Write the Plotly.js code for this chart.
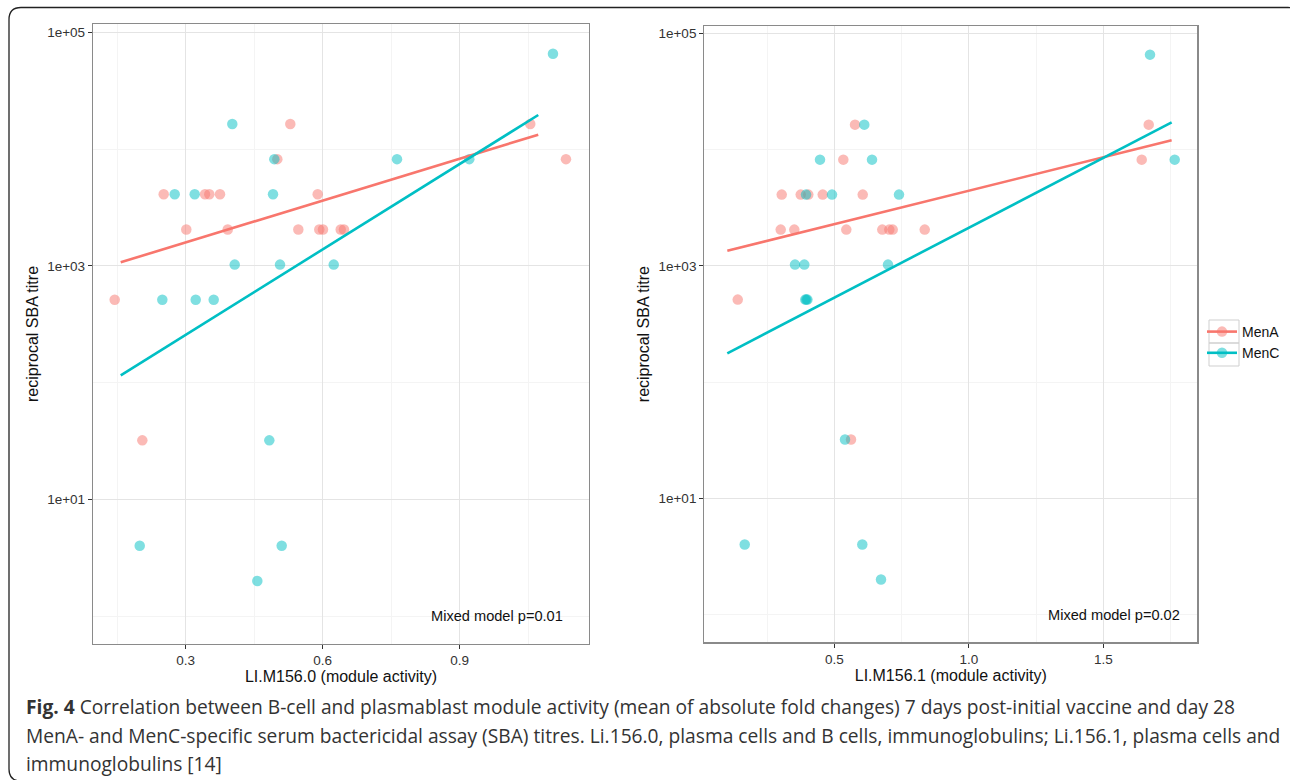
<!DOCTYPE html>
<html><head><meta charset="utf-8">
<script src="https://cdn.plot.ly/plotly-3.0.1.min.js"></script>
<style>html,body{margin:0;padding:0;background:#fff}#chart{width:1290px;height:780px}</style>
</head><body><div id="chart"></div>
<script>
// ---------- data ----------
const groups = ['MenA', 'MenC'];
const groupColors = ['#F8766D', '#00BFC4'];

// Panel 1: LI.M156.0 module activity vs reciprocal SBA titre
const p1MenA_x = [0.1445, 0.2518, 0.3013, 0.3423, 0.3517, 0.3751, 0.3920, 0.5006, 0.5290, 0.5466, 0.5890, 0.5925, 0.6006, 0.6394, 0.6466, 1.0545, 1.1327, 0.2050];
const p1MenA_y = [512, 4096, 2048, 4096, 4096, 4096, 2048, 8192, 16384, 2048, 4096, 2048, 2048, 2048, 2048, 16384, 8192, 32];
const p1MenC_x = [0.2488, 0.2759, 0.3197, 0.3219, 0.3613, 0.4020, 0.4073, 0.4912, 0.4940, 0.5065, 0.6241, 0.7627, 0.9210, 1.1042, 0.4831, 0.1993, 0.5102, 0.4568];
const p1MenC_y = [512, 4096, 4096, 512, 512, 16384, 1024, 4096, 8192, 1024, 1024, 8192, 8192, 65536, 32, 4, 4, 2];
// fitted lines (end points)
const p1FitMenA_x = [0.1577, 1.072];
const p1FitMenA_y = [1072, 13270];
const p1FitMenC_x = [0.1577, 1.072];
const p1FitMenC_y = [115.3, 19580];

// Panel 2: LI.M156.1 module activity vs reciprocal SBA titre
const p2MenA_x = [0.1410, 0.3045, 0.3751, 0.4033, 0.4569, 0.6056, 0.3007, 0.3513, 0.5446, 0.6784, 0.7045, 0.7171, 0.8361, 0.5335, 1.6428, 0.5770, 1.6688, 0.5621];
const p2MenA_y = [512, 4096, 4096, 4096, 4096, 4096, 2048, 2048, 2048, 2048, 2048, 2048, 2048, 8192, 8192, 16384, 16384, 32];
const p2MenC_x = [0.3948, 0.4914, 0.7405, 0.4468, 0.6401, 1.7654, 0.6115, 1.6736, 0.3539, 0.3885, 0.6996, 0.3920, 0.3960, 0.4000, 0.5398, 0.1669, 0.6041, 0.6736];
const p2MenC_y = [4096, 4096, 4096, 8192, 8192, 8192, 16384, 65536, 1024, 1024, 1024, 512, 512, 512, 32, 4, 4, 2];
const p2FitMenA_x = [0.1022, 1.754];
const p2FitMenA_y = [1349, 12010];
const p2FitMenC_x = [0.1022, 1.754];
const p2FitMenC_y = [176.7, 17150];

const p1XTicks = [0.3, 0.6, 0.9];
const p1XTickText = ['0.3', '0.6', '0.9'];
const p2XTicks = [0.5, 1.0, 1.5];
const p2XTickText = ['0.5', '1.0', '1.5'];
const yTicks = [10, 1000, 100000];
const yTickText = ['1e+01', '1e+03', '1e+05'];
const pTexts = ['Mixed model p=0.01', 'Mixed model p=0.02'];
const xTitles = ['LI.M156.0 (module activity)', 'LI.M156.1 (module activity)'];
const yTitle = 'reciprocal SBA titre';
const captionLines = [
  '<b>Fig. 4</b> Correlation between B-cell and plasmablast module activity (mean of absolute fold changes) 7 days post-initial vaccine and day 28',
  'MenA- and MenC-specific serum bactericidal assay (SBA) titres. Li.156.0, plasma cells and B cells, immunoglobulins; Li.156.1, plasma cells and',
  'immunoglobulins [14]'
];

// ---------- helpers ----------
const W = 1290, H = 780;
const px = v => v / W;
const py = v => 1 - v / H;
const FONT = 'Liberation Sans, Arial, Helvetica, sans-serif';

function pts(x, y, gi, xa, ya) {
  return {x: x, y: y, xaxis: xa, yaxis: ya, type: 'scatter', mode: 'markers', showlegend: false,
    name: groups[gi], hoverinfo: 'x+y+name',
    marker: {color: groupColors[gi], size: 10.5, opacity: 0.5, line: {width: 0}}};
}
function fit(x, y, gi, xa, ya) {
  return {x: x, y: y, xaxis: xa, yaxis: ya, type: 'scatter', mode: 'lines', showlegend: false,
    name: groups[gi], line: {color: groupColors[gi], width: 2.6}};
}
function legendTrace(gi) {
  return {x: [null], y: [null], xaxis: 'x2', yaxis: 'y2', type: 'scatter', mode: 'lines+markers',
    name: groups[gi], line: {color: groupColors[gi], width: 2.6},
    marker: {color: groupColors[gi], size: 10.5, opacity: 0.5}};
}

const data = [
  pts(p1MenA_x, p1MenA_y, 0, 'x', 'y'),
  pts(p1MenC_x, p1MenC_y, 1, 'x', 'y'),
  pts(p2MenA_x, p2MenA_y, 0, 'x2', 'y2'),
  pts(p2MenC_x, p2MenC_y, 1, 'x2', 'y2'),
  fit(p1FitMenA_x, p1FitMenA_y, 0, 'x', 'y'),
  fit(p1FitMenC_x, p1FitMenC_y, 1, 'x', 'y'),
  fit(p2FitMenA_x, p2FitMenA_y, 0, 'x2', 'y2'),
  fit(p2FitMenC_x, p2FitMenC_y, 1, 'x2', 'y2'),
  legendTrace(0), legendTrace(1)
];

function xAxis(domain, range, ticks, text, title, anchor) {
  return {domain: domain, range: range, anchor: anchor, tickvals: ticks, ticktext: text,
    ticks: 'outside', ticklen: 4, tickcolor: '#333', tickwidth: 1,
    showline: true, mirror: true, linecolor: '#8a8a8a', linewidth: 1.2,
    showgrid: true, gridcolor: '#e4e4e4', gridwidth: 1, zeroline: false,
    minor: {tickvals: [], showgrid: true, gridcolor: '#f4f4f4', gridwidth: 1, ticklen: 0},
    tickfont: {family: FONT, size: 13.5, color: '#333'},
    title: {text: title, font: {family: FONT, size: 16, color: '#111'}, standoff: 1}};
}
function yAxis(domain, range, anchor) {
  return {domain: domain, type: 'log', range: range, anchor: anchor, tickvals: yTicks, ticktext: yTickText,
    ticks: 'outside', ticklen: 4, tickcolor: '#333', tickwidth: 1,
    showline: true, mirror: true, linecolor: '#8a8a8a', linewidth: 1.2,
    showgrid: true, gridcolor: '#e4e4e4', gridwidth: 1, zeroline: false,
    minor: {tickvals: [1, 100, 10000], showgrid: true, gridcolor: '#f4f4f4', gridwidth: 1, ticklen: 0},
    tickfont: {family: FONT, size: 13.5, color: '#333'},
    title: {text: yTitle, font: {family: FONT, size: 16, color: '#111'}, standoff: 4}};
}

const xa1 = xAxis([px(93), px(589)], [0.0970, 1.1831], p1XTicks, p1XTickText, xTitles[0], 'y');
xa1.minor.tickvals = [0.15, 0.45, 0.75, 1.05];
const xa2 = xAxis([px(704.3), px(1197.3)], [0.0167, 1.8494], p2XTicks, p2XTickText, xTitles[1], 'y2');
xa2.minor.tickvals = [0.25, 0.75, 1.25, 1.75];
const ya1 = yAxis([py(644), py(24)], [-0.239, 5.071], 'x');
const ya2 = yAxis([py(642.3), py(26)], [-0.239, 5.063], 'x2');

function rr(l, t, r, b, rad) {
  const X = v => px(v), Y = v => py(v);
  return `M${X(l+rad)},${Y(t)} L${X(r-rad)},${Y(t)} Q${X(r)},${Y(t)} ${X(r)},${Y(t+rad)} ` +
    `L${X(r)},${Y(b-rad)} Q${X(r)},${Y(b)} ${X(r-rad)},${Y(b)} L${X(l+rad)},${Y(b)} ` +
    `Q${X(l)},${Y(b)} ${X(l)},${Y(b-rad)} L${X(l)},${Y(t+rad)} Q${X(l)},${Y(t)} ${X(l+rad)},${Y(t)} Z`;
}

const annotations = [
  {xref: 'x', yref: 'y', x: 1.131, y: 0, text: pTexts[0], showarrow: false, xanchor: 'right', yanchor: 'middle',
    font: {family: FONT, size: 14.6, color: '#111'}},
  {xref: 'x2', yref: 'y2', x: 1.7926, y: 0, text: pTexts[1], showarrow: false, xanchor: 'right', yanchor: 'middle',
    font: {family: FONT, size: 14.6, color: '#111'}}
];
const capY = [706, 735, 763];
captionLines.forEach((t, i) => annotations.push({
  xref: 'paper', yref: 'paper', x: px(24), y: py(capY[i]), text: t, showarrow: false,
  xanchor: 'left', yanchor: 'middle', align: 'left',
  font: {family: 'Open Sans, Noto Sans, sans-serif', size: 19.2, color: '#333'}
}));

const shapes = [
  {type: 'path', xref: 'paper', yref: 'paper', path: rr(9, 7.5, 1300, 781, 12),
    line: {color: '#222', width: 1.3}, fillcolor: 'rgba(0,0,0,0)', layer: 'below'},
  {type: 'rect', xref: 'paper', yref: 'paper', x0: px(1209), x1: px(1239), y0: py(320), y1: py(343),
    line: {color: '#cfcfcf', width: 1}, fillcolor: 'rgba(0,0,0,0)'},
  {type: 'rect', xref: 'paper', yref: 'paper', x0: px(1209), x1: px(1239), y0: py(343), y1: py(366),
    line: {color: '#cfcfcf', width: 1}, fillcolor: 'rgba(0,0,0,0)'}
];

const layout = {
  width: W, height: H, margin: {l: 0, r: 0, t: 0, b: 0},
  paper_bgcolor: '#fff', plot_bgcolor: '#fff',
  font: {family: FONT, color: '#111'},
  xaxis: xa1, yaxis: ya1, xaxis2: xa2, yaxis2: ya2,
  showlegend: true,
  legend: {x: px(1202), y: py(316), xanchor: 'left', yanchor: 'top', bgcolor: 'rgba(0,0,0,0)',
    borderwidth: 0, font: {family: FONT, size: 14, color: '#111'}, tracegroupgap: 0, itemclick: false},
  annotations: annotations, shapes: shapes
};

Plotly.newPlot('chart', data, layout, {displayModeBar: false, staticPlot: true});
</script></body></html>
